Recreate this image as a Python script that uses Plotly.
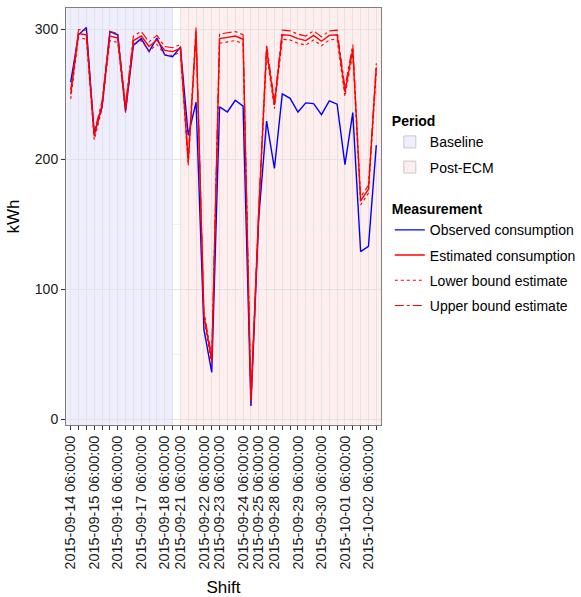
import plotly.graph_objects as go

# ---------------- data ----------------
days = ["2015-09-14", "2015-09-15", "2015-09-16", "2015-09-17", "2015-09-18",
        "2015-09-21", "2015-09-22", "2015-09-23", "2015-09-24", "2015-09-25",
        "2015-09-28", "2015-09-29", "2015-09-30", "2015-10-01", "2015-10-02"]
shifts_per_day = [3, 3, 3, 3, 2, 3, 2, 3, 2, 2, 3, 3, 3, 3, 2]
shift_hours = ["06:00:00", "14:00:00", "22:00:00"]

shifts = []
for d, n in zip(days, shifts_per_day):
    for h in shift_hours[:n]:
        shifts.append(f"{d} {h}")

baseline_last = "2015-09-18 14:00:00"
post_first = "2015-09-21 06:00:00"

observed = [259.5, 296, 301.5, 220, 240, 298.5, 296, 237, 288, 293,
            283, 293.5, 280.5, 279, 286.5, 218.5, 244, 69, 36, 240.5,
            236.5, 245.5, 241, 10, 155, 229.5, 193, 250.5, 247, 236.5,
            243.5, 243, 234.5, 245, 242.5, 196, 236, 129, 133, 211]
estimated = [250, 297, 296, 218, 242, 295, 293.5, 239, 291.5, 295,
             287, 292, 284, 283, 285.5, 198, 298.5, 80, 45, 293,
             294, 295, 292.5, 14, 160, 285, 242, 296, 295.5, 293,
             291.5, 295.5, 291, 295.5, 296, 252, 285, 168, 177, 271]
lower = [246.5, 294, 292.5, 215, 239, 291.5, 290, 236, 288, 291.5,
         283.5, 288.5, 281, 280, 282.5, 195, 295, 77, 42, 289.5,
         290.5, 291.5, 289, 11, 157, 281.5, 239, 292.5, 292, 289.5,
         288, 292, 287.5, 292, 292.5, 248.5, 281.5, 165, 174, 268]
upper = [253.5, 300, 299.5, 221, 245, 298.5, 297, 242, 295, 298.5,
         290.5, 295.5, 287, 286, 288.5, 201, 302, 83, 48, 296.5,
         297.5, 298.5, 296, 17, 163, 288.5, 245, 299.5, 299, 296.5,
         295, 299, 294.5, 299, 299.5, 255.5, 288.5, 171, 180, 274]

y_ticks = [0, 100, 200, 300]
tick_text = [s if s.endswith("06:00:00") else "" for s in shifts]

# ---------------- figure ----------------
FONT = "Liberation Sans, Arial, Helvetica, sans-serif"
BLUE = "#0000FF"
RED = "#FF0000"
BASE_FILL = "rgba(0,0,255,0.065)"
POST_FILL = "rgba(255,0,0,0.065)"

fig = go.Figure()

# legend-only entries for the period rectangles
fig.add_trace(go.Bar(x=[None], y=[None], name="Baseline", legend="legend", legendgroup="b",
                     marker=dict(color="#EEEEFD", line=dict(color="#C8C8C8", width=1))))
fig.add_trace(go.Bar(x=[None], y=[None], name="Post-ECM", legend="legend", legendgroup="p",
                     marker=dict(color="#FDEEEE", line=dict(color="#C8C8C8", width=1))))

fig.add_trace(go.Scatter(x=shifts, y=observed, mode="lines", name="Observed consumption",
                         line=dict(color=BLUE, width=1.4), legend="legend2", legendgroup="o"))
fig.add_trace(go.Scatter(x=shifts, y=estimated, mode="lines", name="Estimated consumption",
                         line=dict(color=RED, width=1.4), legend="legend2", legendgroup="e"))
fig.add_trace(go.Scatter(x=shifts, y=lower, mode="lines", name="Lower bound estimate",
                         line=dict(color=RED, width=1.1, dash="dot"), legend="legend2",
                         legendgroup="l"))
fig.add_trace(go.Scatter(x=shifts, y=upper, mode="lines", name="Upper bound estimate",
                         line=dict(color=RED, width=1.1, dash="dashdot"), legend="legend2",
                         legendgroup="u"))

n = len(shifts)
x_lo, x_hi = -0.6, n - 1 + 0.6
i_base_end = shifts.index(baseline_last)
i_post_start = shifts.index(post_first)

fig.add_shape(type="rect", xref="x", yref="paper", x0=x_lo, x1=i_base_end, y0=0, y1=1,
              fillcolor=BASE_FILL, line=dict(width=0), layer="between")
fig.add_shape(type="rect", xref="x", yref="paper", x0=i_post_start, x1=x_hi, y0=0, y1=1,
              fillcolor=POST_FILL, line=dict(width=0), layer="between")

fig.update_layout(
    width=581, height=597,
    margin=dict(l=66, r=200, t=8, b=172, autoexpand=False),
    paper_bgcolor="white", plot_bgcolor="white",
    font=dict(family=FONT, size=14, color="black"),
    showlegend=True,
    barmode="overlay",
    legend=dict(
        title=dict(text="<b>Period</b>", font=dict(size=14)),
        x=1.028, xanchor="left", y=0.76, yanchor="top",
        font=dict(size=14), bgcolor="rgba(0,0,0,0)",
        traceorder="grouped", tracegroupgap=4,
    ),
    legend2=dict(
        title=dict(text="<b>Measurement</b>", font=dict(size=14)),
        x=1.028, xanchor="left", y=0.549, yanchor="top",
        font=dict(size=14), bgcolor="rgba(0,0,0,0)",
        traceorder="grouped", tracegroupgap=4,
    ),
    xaxis=dict(
        type="category", categoryorder="array", categoryarray=shifts,
        range=[x_lo, x_hi],
        tickmode="array", tickvals=shifts, ticktext=tick_text,
        tickangle=-90, tickfont=dict(size=14.4, color="#1a1a1a"),
        ticks="outside", ticklen=4, tickcolor="#333333", tickwidth=1,
        showgrid=True, gridcolor="#E3E3E3", gridwidth=1,
        showline=True, linecolor="#7F7F7F", linewidth=1, mirror=True,
        zeroline=False,
        title=dict(text="Shift", font=dict(size=17), standoff=18),
    ),
    yaxis=dict(
        range=[-4.6, 316.6],
        tickmode="array", tickvals=y_ticks,
        tickfont=dict(size=14, color="#1a1a1a"),
        ticks="outside", ticklen=4, tickcolor="#333333", tickwidth=1,
        showgrid=True, gridcolor="#E3E3E3", gridwidth=1,
        minor=dict(tickmode="array", tickvals=[50, 150, 250], showgrid=True,
                   gridcolor="#F1F1F1", ticks=""),
        showline=True, linecolor="#7F7F7F", linewidth=1, mirror=True,
        zeroline=False,
        title=dict(text="kWh", font=dict(size=17), standoff=10),
    ),
)

fig.write_html("out.html", config={"displayModeBar": False},
               post_script="document.body.style.margin='0px';")
